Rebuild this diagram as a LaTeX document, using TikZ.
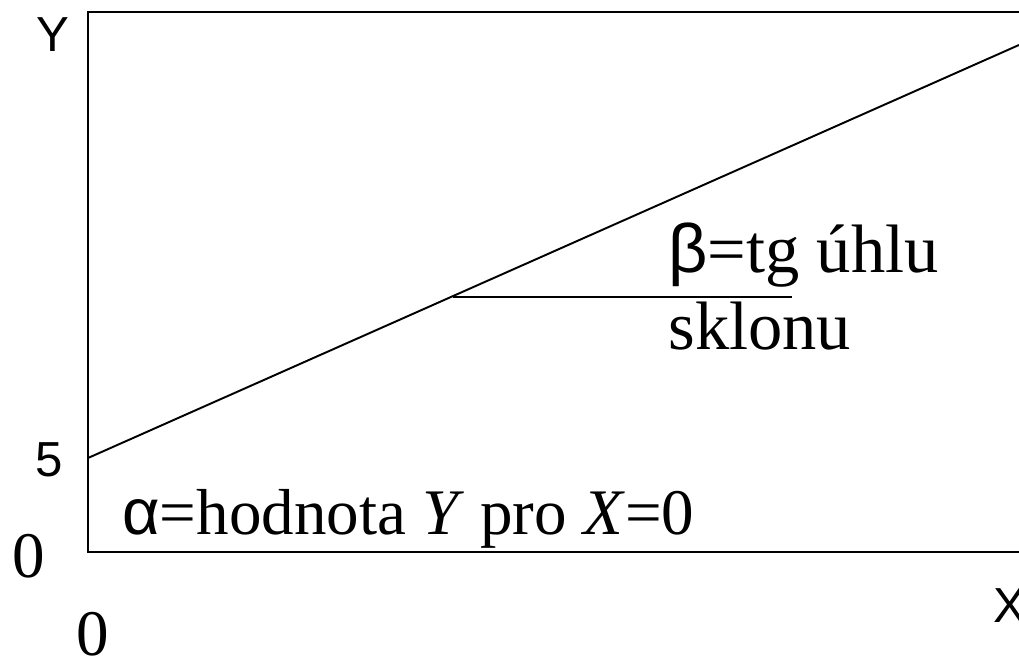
\documentclass[tikz,border=0pt]{standalone}
\usepackage{fontspec}
\setmainfont{Liberation Serif}
\newfontfamily\arialfont{Liberation Sans}

\begin{document}
\begin{tikzpicture}[x=0.02cm, y=-0.02cm,
    axisline/.style={line width=1.1pt},
    serifbig/.style={inner sep=0pt, anchor=base west, font=\fontsize{37}{40}\selectfont},
    seriflarge/.style={inner sep=0pt, anchor=base west, font=\fontsize{39}{42}\selectfont},
    sanslabel/.style={inner sep=0pt, anchor=base west, font=\arialfont\fontsize{28}{30}\selectfont}]
    \useasboundingbox (0,0) rectangle (1019,658);

    % Frame
    \coordinate (tl) at (88,12);
    \coordinate (bl) at (88,552);
    \coordinate (tr) at (1019,12);
    \coordinate (br) at (1019,552);
    \draw[axisline] (tr) -- (tl) -- (bl) -- (br);

    % Regression line
    \coordinate (icpt) at (88,458);
    \coordinate (lend) at (1019,45);
    \coordinate (hit) at (453,297);
    \coordinate (hend) at (792,297);
    \draw[line width=1.1pt] (icpt) -- (lend);
    \draw[line width=1.1pt] (hit) -- (hend);

    % Axis labels
    \node[sanslabel] (ylab) at (36,52) {Y};
    \node[sanslabel] (xlab) at (993,623) {X};
    \node[sanslabel] (five) at (35,477) {5};
    \node[serifbig] (zeroy) at (12,578) {0};
    \node[serifbig] (zerox) at (76,656) {0};

    % Texts
    \node[seriflarge] (beta) at (668,273) {{\arialfont β}=tg úhlu};
    \node[seriflarge] (sklon) at (668,350) {sklonu};
    \node[serifbig] (alpha) at (122,535) {{\arialfont α}=hodnota \textit{Y} pro \textit{X}=0};
\end{tikzpicture}
\end{document}
